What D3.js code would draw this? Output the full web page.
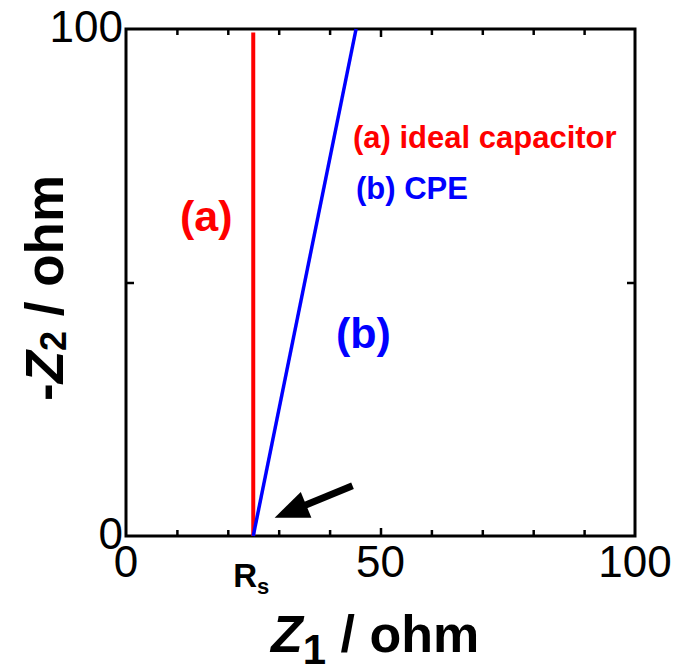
<!DOCTYPE html>
<html>
<head>
<meta charset="utf-8">
<script src="https://cdn.jsdelivr.net/npm/d3@7"></script>
<style>
  body { margin: 0; background: #fff; }
  svg text { font-family: "Liberation Sans", Arial, sans-serif; }
</style>
</head>
<body>
<div id="chart"></div>
<script>
// data
const xDomain = [0, 100];
const yDomain = [0, 100];
const xTickLabels = [0, 50, 100];
const yTickLabels = [0, 100];
const minorTicks = [10, 20, 30, 40, 60, 70, 80, 90];
const majorTicks = [50];
const idealCapacitor = [[25, 0], [25, 99.3]];   // (a) vertical line at Rs
const cpe = [[25, 0], [45.2, 100]];             // (b) tilted line
const rs = 25;
const arrowFrom = [44.5, 9.9];
const arrowTo = [29.2, 3.6];

const width = 676, height = 668;
const margin = {left: 126, right: 41, top: 29, bottom: 132};

const svg = d3.select('#chart').append('svg')
    .attr('width', width)
    .attr('height', height);

const x = d3.scaleLinear().domain(xDomain).range([margin.left, width - margin.right]);
const y = d3.scaleLinear().domain(yDomain).range([height - margin.bottom, margin.top]);

// ticks (inward, all four sides)
function tickAxis(axisFn, scale, vals, len, tr) {
  const g = svg.append('g').attr('transform', tr)
    .call(axisFn(scale).tickValues(vals).tickSize(len).tickFormat(''));
  g.select('.domain').remove();
  g.selectAll('.tick line').attr('stroke', '#000').attr('stroke-width', 2.5);
  return g;
}
const x0 = x(0), x1 = x(100), y0 = y(0), y1 = y(100);
tickAxis(d3.axisTop, x, minorTicks, 6, `translate(0,${y0})`);
tickAxis(d3.axisTop, x, majorTicks, 8, `translate(0,${y0})`);
tickAxis(d3.axisBottom, x, minorTicks, 6, `translate(0,${y1})`);
tickAxis(d3.axisBottom, x, majorTicks, 8, `translate(0,${y1})`);
tickAxis(d3.axisRight, y, majorTicks, 8, `translate(${x0},0)`);
tickAxis(d3.axisLeft, y, majorTicks, 8, `translate(${x1},0)`);

// frame
svg.append('rect')
    .attr('x', x0).attr('y', y1)
    .attr('width', x1 - x0).attr('height', y0 - y1)
    .attr('fill', 'none').attr('stroke', '#000').attr('stroke-width', 3);

// tick labels
svg.selectAll('.xl').data(xTickLabels).enter().append('text')
    .attr('x', d => x(d)).attr('y', y0 + 41)
    .attr('text-anchor', 'middle').attr('font-size', 44)
    .text(d => d);
svg.selectAll('.yl').data(yTickLabels).enter().append('text')
    .attr('x', x0 - 3).attr('y', d => y(d) + 13)
    .attr('text-anchor', 'end').attr('font-size', 44)
    .text(d => d);

// Rs label
const rsText = svg.append('text')
    .attr('x', x(rs) - 20).attr('y', y0 + 51)
    .attr('font-size', 33).attr('font-weight', 'bold');
rsText.append('tspan').text('R');
rsText.append('tspan').attr('font-size', 22).attr('dy', 7).text('s');

// axis titles
const xt = svg.append('text')
    .attr('x', 271).attr('y', y0 + 116)
    .attr('font-size', 52).attr('font-weight', 'bold');
xt.append('tspan').attr('font-style', 'italic').text('Z');
xt.append('tspan').attr('font-size', 42).attr('dy', 12).text('1');
xt.append('tspan').attr('dy', -12).text(' / ohm');

const yt = svg.append('text')
    .attr('transform', 'translate(63,401) rotate(-90)')
    .attr('font-size', 53).attr('font-weight', 'bold');
yt.append('tspan').text('-');
yt.append('tspan').attr('font-style', 'italic').text('Z');
yt.append('tspan').attr('font-size', 36).attr('dy', 3).text('2');
yt.append('tspan').attr('dy', -3).text(' / ohm');

// lines
const line = d3.line().x(d => x(d[0])).y(d => y(d[1]));
svg.append('path').datum(idealCapacitor).attr('d', line)
    .attr('fill', 'none').attr('stroke', '#ff0000').attr('stroke-width', 4);
svg.append('path').datum(cpe).attr('d', line)
    .attr('fill', 'none').attr('stroke', '#0000ff').attr('stroke-width', 3.5);

// arrow
const ax0 = x(arrowFrom[0]), ay0 = y(arrowFrom[1]);
const ax1 = x(arrowTo[0]), ay1 = y(arrowTo[1]);
const ang = Math.atan2(ay1 - ay0, ax1 - ax0);
const headLen = 34, headW = 14;
const bx = ax1 - headLen * Math.cos(ang), by = ay1 - headLen * Math.sin(ang);
svg.append('line')
    .attr('x1', ax0).attr('y1', ay0).attr('x2', bx + 3 * Math.cos(ang)).attr('y2', by + 3 * Math.sin(ang))
    .attr('stroke', '#000').attr('stroke-width', 7);
svg.append('path')
    .attr('d', `M${ax1},${ay1}L${bx + headW * Math.sin(ang)},${by - headW * Math.cos(ang)}L${bx - headW * Math.sin(ang)},${by + headW * Math.cos(ang)}Z`)
    .attr('fill', '#000');

// annotations
svg.append('text').attr('x', 353).attr('y', 148)
    .attr('font-size', 31).attr('font-weight', 'bold').attr('fill', '#ff0000')
    .text('(a) ideal capacitor');
svg.append('text').attr('x', 356).attr('y', 199)
    .attr('font-size', 31).attr('font-weight', 'bold').attr('fill', '#0000ff')
    .text('(b) CPE');
svg.append('text').attr('x', 180).attr('y', 231)
    .attr('font-size', 43).attr('font-weight', 'bold').attr('fill', '#ff0000')
    .text('(a)');
svg.append('text').attr('x', 336).attr('y', 348)
    .attr('font-size', 43).attr('font-weight', 'bold').attr('fill', '#0000ff')
    .text('(b)');
</script>
</body>
</html>
